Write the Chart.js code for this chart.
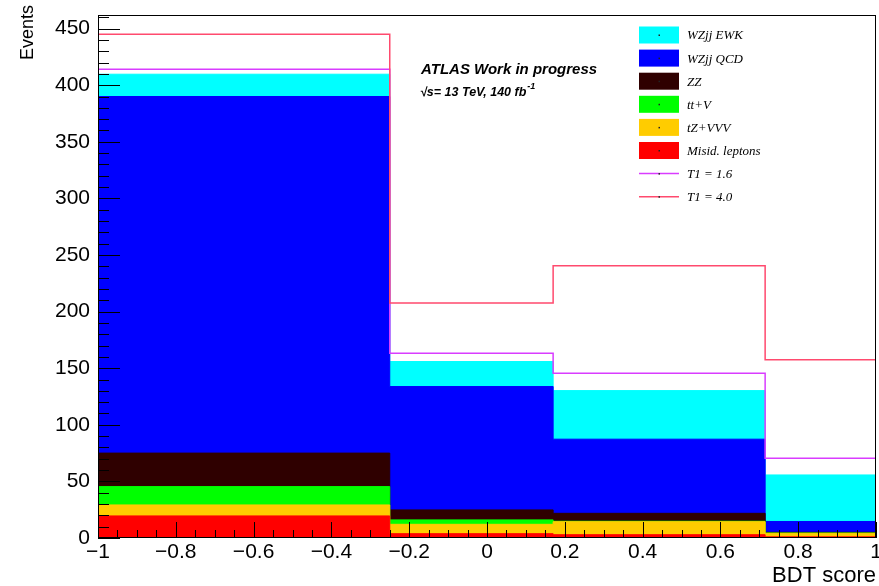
<!DOCTYPE html>
<html lang="en">
<head>
<meta charset="UTF-8">
<title>BDT score</title>
<style>
  html, body { margin: 0; padding: 0; background: #fff; }
  #wrap { width: 879px; height: 586px; position: relative; }
</style>
</head>
<body>
<div id="wrap"><canvas id="chart"></canvas></div>
<script src="https://cdn.jsdelivr.net/npm/chart.js"></script>
<script>
  // bin edges of the BDT score histogram
  const binEdges = [-1, -0.25, 0.17, 0.715, 1];

  // events per bin, one array per stacked sample
  const misid = [19.5, 3.8, 2.9, 1.0];
  const tzVVV = [9.7, 8.3, 11.5, 3.2];
  const ttV = [16.2, 3.9, 0.4, 0.2];
  const zz = [29.6, 8.8, 7.0, 0.6];
  const wzQCD = [315, 109, 65.5, 9.6];
  const wzEWK = [19.7, 22.1, 42.9, 41.1];

  // total prediction for two T1 values (drawn as lines)
  const t1_16 = [414, 163.3, 145.6, 70.5];
  const t1_40 = [445, 207.5, 240.5, 157.4];

  const xTicks = [-1, -0.8, -0.6, -0.4, -0.2, 0, 0.2, 0.4, 0.6, 0.8, 1];
  const yTicks = [0, 50, 100, 150, 200, 250, 300, 350, 400, 450];

  const sans = "'Liberation Sans', Arial, sans-serif";
  const serif = "'Liberation Serif', 'Times New Roman', serif";

  // cumulative sums for the stack (bottom to top)
  const stackOrder = [misid, tzVVV, ttV, zz, wzQCD, wzEWK];
  const cumul = [];
  let running = [0, 0, 0, 0];
  stackOrder.forEach(arr => {
    running = running.map((v, i) => v + arr[i]);
    cumul.push(running.slice());
  });

  function steps(vals) {
    return binEdges.map((e, i) => ({ x: e, y: vals[Math.min(i, vals.length - 1)] }));
  }

  function lineSet(label, vals, color) {
    return {
      label, data: steps(vals), stepped: 'before', fill: false,
      borderColor: color, borderWidth: 1.5, pointRadius: 0, legendType: 'line'
    };
  }
  function fillSet(label, vals, color) {
    return {
      label, data: steps(vals), stepped: 'before', fill: 'origin',
      borderColor: color, backgroundColor: color, borderWidth: 1, pointRadius: 0, legendType: 'box'
    };
  }

  // lowest index is drawn last (on top)
  const datasets = [
    lineSet('T1 = 4.0', t1_40, '#ff4a6e'),
    lineSet('T1 = 1.6', t1_16, '#d93cff'),
    fillSet('Misid. leptons', cumul[0], '#ff0000'),
    fillSet('tZ+VVV', cumul[1], '#ffcc00'),
    fillSet('tt+V', cumul[2], '#00ff00'),
    fillSet('ZZ', cumul[3], '#2f0000'),
    fillSet('WZjj QCD', cumul[4], '#0000ff'),
    fillSet('WZjj EWK', cumul[5], '#00ffff')
  ];
  const legendOrder = ['WZjj EWK', 'WZjj QCD', 'ZZ', 'tt+V', 'tZ+VVV', 'Misid. leptons', 'T1 = 1.6', 'T1 = 4.0'];

  const decorations = {
    id: 'decorations',
    afterDatasetsDraw(chart) {
      const ctx = chart.ctx;
      const a = chart.chartArea;
      const xs = chart.scales.x, ys = chart.scales.y;
      ctx.save();
      ctx.strokeStyle = '#000';
      ctx.lineWidth = 1;
      ctx.beginPath();
      // y ticks: major every 50, minor every 10
      for (let v = 0; v <= ys.max; v += 10) {
        const y = Math.round(ys.getPixelForValue(v)) + 0.5;
        const len = v % 50 === 0 ? 22 : 11;
        ctx.moveTo(a.left, y);
        ctx.lineTo(a.left + len, y);
      }
      // x ticks: major every 0.2, minor every 0.05
      for (let k = 0; k <= 40; k++) {
        const v = -1 + k * 0.05;
        const x = Math.round(xs.getPixelForValue(v)) + 0.5;
        const len = k % 4 === 0 ? 16 : 8;
        ctx.moveTo(x, a.bottom);
        ctx.lineTo(x, a.bottom - len);
      }
      ctx.stroke();
      ctx.strokeRect(Math.round(a.left) + 0.5, Math.round(a.top) + 0.5,
        Math.round(a.right - a.left) - 1, Math.round(a.bottom - a.top) - 1);
      ctx.restore();
    },
    afterDraw(chart) {
      const ctx = chart.ctx;
      ctx.save();
      // y axis title
      ctx.fillStyle = '#000';
      ctx.font = '18px ' + sans;
      ctx.save();
      ctx.translate(28, 5);
      ctx.rotate(-Math.PI / 2);
      ctx.textAlign = 'right';
      ctx.textBaseline = 'middle';
      ctx.fillText('Events', 0, 0);
      ctx.restore();
      // legend
      const bx = 639, bw = 40, bh = 17, tx = 687;
      legendOrder.forEach((name, i) => {
        const ds = chart.data.datasets.find(d => d.label === name);
        const cy = 35 + i * 23.1;
        if (ds.legendType === 'box') {
          ctx.fillStyle = ds.backgroundColor;
          ctx.fillRect(bx, cy - bh / 2, bw, bh);
        } else {
          ctx.strokeStyle = ds.borderColor;
          ctx.lineWidth = 1.5;
          ctx.beginPath();
          ctx.moveTo(bx, cy);
          ctx.lineTo(bx + bw, cy);
          ctx.stroke();
        }
        ctx.fillStyle = '#222';
        ctx.fillRect(bx + bw / 2 - 0.5, cy - 0.5, 1.5, 1.5);
        ctx.fillStyle = '#000';
        ctx.font = 'italic 13px ' + serif;
        ctx.textBaseline = 'middle';
        ctx.textAlign = 'left';
        ctx.fillText(name, tx, cy + 1);
      });
      // ATLAS label
      ctx.fillStyle = '#000';
      ctx.textBaseline = 'alphabetic';
      ctx.font = 'italic bold 15px ' + sans;
      ctx.fillText('ATLAS Work in progress', 421, 74);
      ctx.font = 'italic bold 12.5px ' + sans;
      const main = '\u221As= 13 TeV, 140 fb';
      ctx.fillText(main, 420, 96);
      const w = ctx.measureText(main).width;
      ctx.font = 'italic bold 9px ' + sans;
      ctx.fillText('-1', 420 + w + 1, 89);
      ctx.restore();
    }
  };

  new Chart(document.getElementById('chart'), {
    type: 'line',
    data: { datasets },
    options: {
      responsive: true,
      maintainAspectRatio: false,
      animation: false,
      layout: { padding: { top: 15, right: 3, left: 0, bottom: 0 } },
      plugins: { legend: { display: false }, tooltip: { enabled: false } },
      scales: {
        x: {
          type: 'linear', min: -1, max: 1,
          grid: { display: false, drawTicks: false },
          border: { display: false },
          afterBuildTicks: s => { s.ticks = xTicks.map(v => ({ value: v })); },
          afterFit: s => { s.height = 48; s.paddingLeft = 0; s.paddingRight = 0; },
          ticks: {
            padding: 2, color: '#000', autoSkip: false, maxRotation: 0,
            font: { family: sans, size: 21 },
            callback: v => String(Number(v.toFixed(2))).replace('-', '\u2212')
          },
          title: {
            display: true, text: 'BDT score', align: 'end', color: '#000',
            font: { family: sans, size: 22 }, padding: { top: 0, bottom: -3 }
          }
        },
        y: {
          min: 0, max: 462,
          grid: { display: false, drawTicks: false },
          border: { display: false },
          afterBuildTicks: s => { s.ticks = yTicks.map(v => ({ value: v })); },
          afterFit: s => { s.width = 98; s.paddingTop = 0; s.paddingBottom = 0; },
          ticks: { padding: 8, color: '#000', font: { family: sans, size: 21 } }
        }
      }
    },
    plugins: [decorations]
  });
</script>
</body>
</html>
